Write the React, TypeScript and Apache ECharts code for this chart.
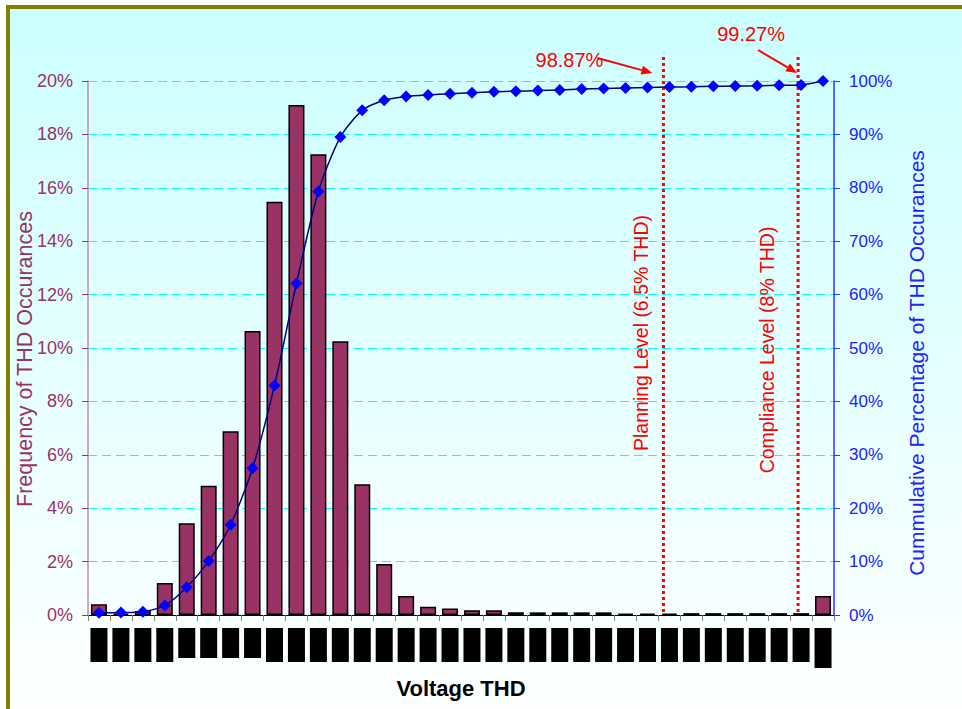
import React, { useEffect, useRef } from "react";
import * as echarts from "echarts";

const categories = [
  "0", "0.25", "0.5", "0.75", "1", "1.25", "1.5", "1.75", "2", "2.25", "2.5", "2.75",
  "3", "3.25", "3.5", "3.75", "4", "4.25", "4.5", "4.75", "5", "5.25", "5.5", "5.75",
  "6", "6.25", "6.5", "6.75", "7", "7.25", "7.5", "7.75", "8", "More",
];

const frequency = [
  0.40, 0.05, 0.15, 1.20, 3.44, 4.84, 6.88, 10.64, 15.48, 19.10, 17.26, 10.25,
  4.90, 1.91, 0.71, 0.31, 0.24, 0.18, 0.18, 0.10, 0.10, 0.10, 0.10, 0.10,
  0.05, 0.05, 0.05, 0.07, 0.07, 0.07, 0.07, 0.07, 0.07, 0.71,
];

const cumulative = [
  0.40, 0.45, 0.62, 1.8, 5.2, 10.1, 16.9, 27.5, 43.0, 62.1, 79.3, 89.5,
  94.5, 96.4, 97.1, 97.4, 97.6, 97.8, 98.0, 98.1, 98.2, 98.3, 98.5, 98.6,
  98.7, 98.8, 98.87, 98.9, 99.0, 99.05, 99.1, 99.2, 99.27, 100,
];

const leftAxisTitle = "Frequency of THD Occurances";
const rightAxisTitle = "Cummulative Percentage of THD Occurances";
const xAxisTitle = "Voltage THD";

const planningIndex = 26;
const planningText = "Planning Level (6.5% THD)";
const planningValue = "98.87%";
const complianceIndex = 32;
const complianceText = "Compliance Level (8% THD)";
const complianceValue = "99.27%";

const FONT = "'Liberation Sans', Arial, sans-serif";
const RED = "#FF0000";

function arrow(x1: number, y1: number, x2: number, y2: number) {
  const ang = Math.atan2(y2 - y1, x2 - x1);
  const len = 11;
  const hw = 4.5;
  const bx = x2 - len * Math.cos(ang);
  const by = y2 - len * Math.sin(ang);
  const nx = -Math.sin(ang);
  const ny = Math.cos(ang);
  return [
    {
      type: "line",
      shape: { x1, y1, x2: bx, y2: by },
      style: { stroke: RED, lineWidth: 2 },
      z: 20,
    },
    {
      type: "polygon",
      shape: {
        points: [
          [x2, y2],
          [bx + nx * hw, by + ny * hw],
          [bx - nx * hw, by - ny * hw],
        ],
      },
      style: { fill: RED },
      z: 20,
    },
  ];
}

export default function App() {
  const ref = useRef<HTMLDivElement>(null);

  useEffect(() => {
    document.body.style.margin = "0";
    const chart = echarts.init(ref.current!, null, { renderer: "svg" });

    const option: any = {
      animation: false,
      backgroundColor: "#FFFFFF",
      textStyle: { fontFamily: FONT },
      grid: {
        left: 88,
        right: 128,
        top: 81,
        bottom: 94,
        containLabel: false,
        outerBoundsMode: "none",
      },
      xAxis: {
        type: "category",
        data: categories,
        boundaryGap: true,
        axisLine: { show: true, lineStyle: { color: "#000000", width: 1 } },
        axisTick: { show: true, length: 6, lineStyle: { color: "#808080" } },
        axisLabel: {
          interval: 0,
          margin: 13,
          formatter: (v: string, i: number) => {
            const k = i === categories.length - 1 ? "c" : i >= 4 && i <= 7 ? "b" : "a";
            return `{${k}|${v}}`;
          },
          rich: {
            a: { backgroundColor: "#000", color: "#000", width: 17, height: 34, fontSize: 7, align: "center" },
            b: { backgroundColor: "#000", color: "#000", width: 17, height: 30, fontSize: 7, align: "center" },
            c: { backgroundColor: "#000", color: "#000", width: 17, height: 40, fontSize: 7, align: "center" },
          },
        },
        name: xAxisTitle,
        nameLocation: "middle",
        nameGap: 62,
        nameTextStyle: { fontFamily: FONT, fontSize: 22, fontWeight: "bold", color: "#000000" },
      },
      yAxis: [
        {
          type: "value",
          position: "left",
          min: 0,
          max: 20,
          interval: 2,
          axisLine: { show: true, lineStyle: { color: "#C48AAA", width: 1.5 } },
          axisTick: { show: true, length: 6, lineStyle: { color: "#993366" } },
          axisLabel: {
            formatter: "{value}%",
            color: "#993366",
            fontSize: 18,
            margin: 15,
            fontFamily: FONT,
          },
          splitLine: {
            show: true,
            lineStyle: { color: "#00FFFF", width: 1, type: [9, 5] },
          },
          name: leftAxisTitle,
          nameLocation: "middle",
          nameGap: 52,
          nameMoveOverlap: false,
          nameTextStyle: { fontFamily: FONT, fontSize: 21.5, color: "#993366", padding: [0, 22, 0, 0] },
        },
        {
          type: "value",
          position: "right",
          min: 0,
          max: 100,
          interval: 10,
          axisLine: { show: true, lineStyle: { color: "#3333FF", width: 1.5 } },
          axisTick: { show: true, length: 6, lineStyle: { color: "#3333FF" } },
          axisLabel: {
            formatter: "{value}%",
            color: "#2222FF",
            fontSize: 17,
            margin: 15,
            fontFamily: FONT,
          },
          splitLine: { show: false },
          name: rightAxisTitle,
          nameLocation: "middle",
          nameGap: 72,
          nameTextStyle: { fontFamily: FONT, fontSize: 21, color: "#2222FF", padding: [0, 30, 0, 0] },
        },
      ],
      series: [
        {
          type: "bar",
          yAxisIndex: 0,
          data: frequency,
          barCategoryGap: "27%",
          itemStyle: { color: "#993366", borderColor: "#000000", borderWidth: 1.5 },
          z: 2,
        },
        {
          type: "line",
          yAxisIndex: 1,
          data: cumulative,
          smooth: 0.25,
          symbol: "diamond",
          symbolSize: 12,
          itemStyle: { color: "#0000FF" },
          lineStyle: { color: "#000080", width: 1.5 },
          z: 5,
        },
      ],
      graphic: [
        {
          type: "rect",
          id: "bg",
          shape: { x: 8, y: 7, width: 1000, height: 720 },
          style: {
            fill: new echarts.graphic.LinearGradient(0, 0, 0, 1, [
              { offset: 0, color: "#CCFFFF" },
              { offset: 1, color: "#FFFFFF" },
            ]),
            stroke: "#808000",
            lineWidth: 4,
          },
          z: -100,
          silent: true,
        },
      ],
    };

    chart.setOption(option);

    const gridTop = chart.convertToPixel({ yAxisIndex: 0 }, 20) as number;
    const gridBottom = chart.convertToPixel({ yAxisIndex: 0 }, 0) as number;
    // the marker lines sit slightly left of the category centre in the original
    const px1 = (chart.convertToPixel({ xAxisIndex: 0 }, planningIndex) as number) - 6;
    const px2 = (chart.convertToPixel({ xAxisIndex: 0 }, complianceIndex) as number) - 3;

    const extra: any[] = [];
    [px1, px2].forEach((px) => {
      extra.push({
        type: "line",
        shape: { x1: px, y1: gridTop - 24, x2: px, y2: gridBottom - 3 },
        style: { stroke: RED, lineWidth: 3, lineDash: [3, 3] },
        z: 4,
        silent: true,
      });
    });
    extra.push({
      type: "text",
      x: px1 - 22,
      y: gridTop + 252,
      rotation: Math.PI / 2,
      style: {
        text: planningText,
        fill: RED,
        font: `19.5px ${FONT}`,
        align: "center",
        verticalAlign: "middle",
      },
      z: 20,
    });
    extra.push({
      type: "text",
      x: px2 - 31,
      y: gridTop + 269,
      rotation: Math.PI / 2,
      style: {
        text: complianceText,
        fill: RED,
        font: `19.5px ${FONT}`,
        align: "center",
        verticalAlign: "middle",
      },
      z: 20,
    });
    extra.push({
      type: "text",
      x: px1 - 94,
      y: gridTop - 21,
      style: { text: planningValue, fill: RED, font: `20px ${FONT}`, align: "center", verticalAlign: "middle" },
      z: 20,
    });
    extra.push({
      type: "text",
      x: px2 - 47,
      y: gridTop - 47,
      style: { text: complianceValue, fill: RED, font: `20px ${FONT}`, align: "center", verticalAlign: "middle" },
      z: 20,
    });
    extra.push(...arrow(px1 - 66, gridTop - 23, px1 - 11, gridTop - 8));
    extra.push(...arrow(px2 - 40, gridTop - 31, px2 - 1, gridTop - 8));

    chart.setOption({ graphic: [option.graphic[0], ...extra] });

    return () => chart.dispose();
  }, []);

  return <div ref={ref} style={{ width: 962, height: 709 }} />;
}
